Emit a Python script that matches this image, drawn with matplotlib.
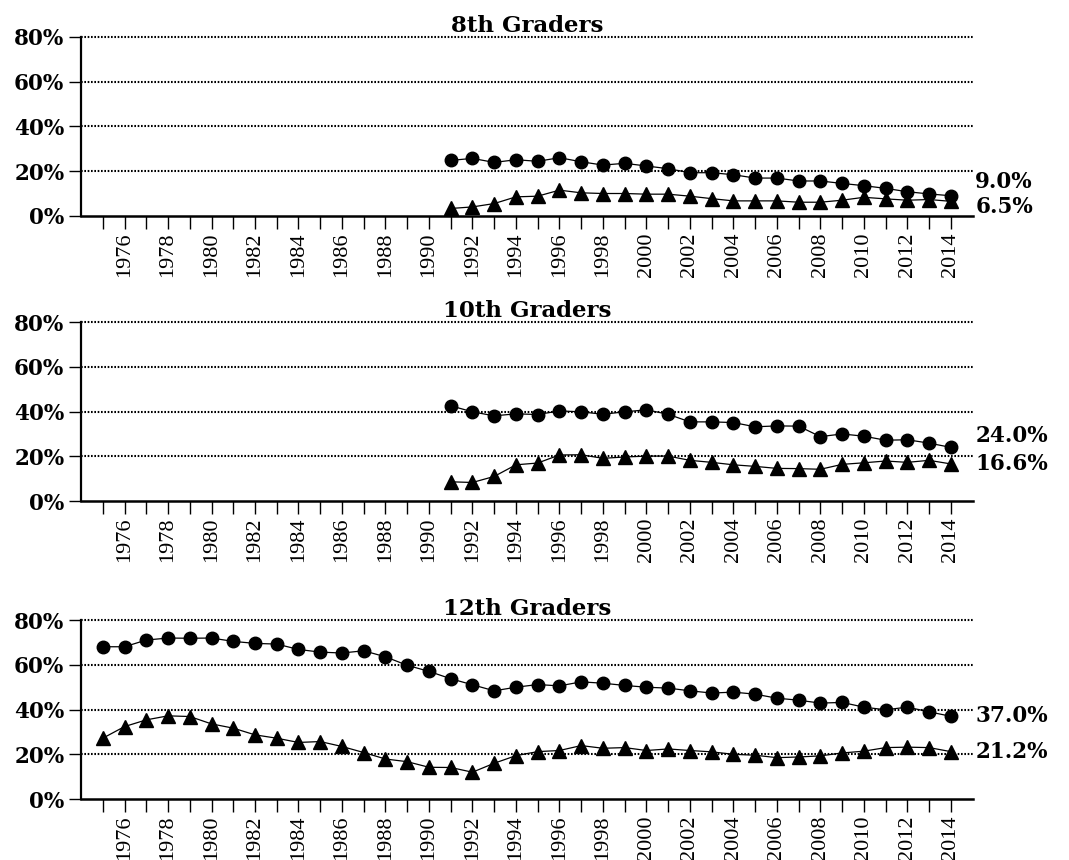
import numpy as np
import matplotlib
matplotlib.use('Agg')
import matplotlib.pyplot as plt

years_all = list(range(1975, 2015))
years_late = list(range(1991, 2015))

grade_titles = ['8th Graders', '10th Graders', '12th Graders']

# circles (upper series)
g8_circle = [24.8, 25.7, 23.9, 25.1, 24.4, 26.0, 24.2, 22.7, 23.5, 22.3, 21.1, 19.3,
             19.3, 18.4, 16.9, 16.9, 15.6, 15.6, 14.5, 13.5, 12.3, 10.8, 9.8, 9.0]
g10_circle = [42.6, 39.9, 38.1, 39.0, 38.7, 40.3, 39.9, 38.8, 39.9, 40.8, 38.8, 35.4,
              35.4, 35.1, 33.2, 33.6, 33.5, 28.8, 30.0, 29.0, 27.2, 27.4, 25.9, 24.0]
g12_circle = [68.1, 68.1, 71.1, 72.0, 71.9, 72.0, 70.5, 69.6, 69.3, 66.9,
              65.7, 65.3, 66.3, 63.6, 59.8, 57.1, 53.8, 51.1, 48.4, 50.0,
              51.2, 50.6, 52.4, 51.8, 50.8, 50.0, 49.6, 48.4, 47.4, 47.8,
              46.9, 45.1, 44.2, 42.9, 43.2, 41.1, 39.9, 41.1, 39.0, 37.0]

# triangles (lower series)
g8_tri = [3.3, 4.0, 5.5, 8.5, 8.8, 11.5, 10.3, 10.0, 10.0, 9.7, 9.7, 8.8,
          7.7, 6.7, 6.7, 6.7, 6.1, 6.1, 7.0, 8.3, 7.6, 7.0, 7.3, 6.5]
g10_tri = [8.6, 8.3, 11.0, 16.2, 17.0, 20.6, 20.7, 19.1, 19.7, 20.1, 20.1, 18.2,
           17.3, 16.2, 15.5, 14.6, 14.5, 14.2, 16.4, 17.1, 17.9, 17.3, 18.2, 16.6]
g12_tri = [27.2, 32.4, 35.4, 37.2, 36.9, 33.6, 31.7, 28.7, 27.2, 25.3,
           25.7, 23.5, 20.8, 17.9, 16.7, 14.2, 14.1, 12.0, 16.0, 19.4,
           21.2, 21.7, 23.9, 22.7, 23.0, 21.7, 22.4, 21.7, 21.1, 20.0,
           19.6, 18.5, 18.8, 19.3, 20.6, 21.4, 23.0, 23.2, 23.0, 21.2]

end_labels = [('9.0%', '6.5%'), ('24.0%', '16.6%'), ('37.0%', '21.2%')]

yticks = [0, 20, 40, 60, 80]
ytick_labels = ['0%', '20%', '40%', '60%', '80%']


def main():
    fig = plt.figure(figsize=(10.69, 8.6), dpi=100)

    panels = [
        (years_late, g8_circle, g8_tri, 0.749, (10, -4)),
        (years_late, g10_circle, g10_tri, 0.4174, (8, 0)),
        (years_all, g12_circle, g12_tri, 0.0709, (0, 0)),
    ]

    bold = dict(family='DejaVu Serif', weight='bold', size=15.5)

    for i, (yrs, circ, tri, bottom, offs) in enumerate(panels):
        ax = fig.add_axes([0.0758, bottom, 0.834, 0.208])

        for y in [20, 40, 60, 80]:
            ax.axhline(y, color='black', lw=1.5, ls=(0, (0.8, 0.8)),
                       zorder=1, clip_on=False)

        ax.plot(yrs, circ, color='black', lw=0.9, marker='o', ms=9, zorder=3)
        ax.plot(yrs, tri, color='black', lw=0.9, marker='^', ms=9.5, zorder=3)

        ax.set_xlim(1974, 2015)
        ax.set_ylim(0, 80)

        ax.set_xticks(years_all)
        ax.set_xticklabels([str(y) if y % 2 == 0 else '' for y in years_all],
                           rotation=90, family='Liberation Serif', fontsize=16)
        ax.set_yticks(yticks)
        ax.set_yticklabels(ytick_labels, **bold)
        ax.tick_params(axis='x', length=9, width=1, pad=3, direction='out')
        ax.tick_params(axis='y', length=9, width=1, pad=3, direction='out')

        ax.spines['top'].set_visible(False)
        ax.spines['right'].set_visible(False)
        ax.spines['left'].set_linewidth(1.6)
        ax.spines['bottom'].set_linewidth(1.8)

        ax.set_title(grade_titles[i], pad=3, family='DejaVu Serif',
                     weight='bold', size=16.5)

        lab_c, lab_t = end_labels[i]
        ax.annotate(lab_c, xy=(1.0, circ[-1]), xycoords=('axes fraction', 'data'),
                    xytext=(2, offs[0]), textcoords='offset points',
                    va='center', ha='left', **bold)
        ax.annotate(lab_t, xy=(1.0, tri[-1]), xycoords=('axes fraction', 'data'),
                    xytext=(2, offs[1]), textcoords='offset points',
                    va='center', ha='left', **bold)

    fig.savefig('out.png', dpi=100)


if __name__ == "__main__":
    main()
